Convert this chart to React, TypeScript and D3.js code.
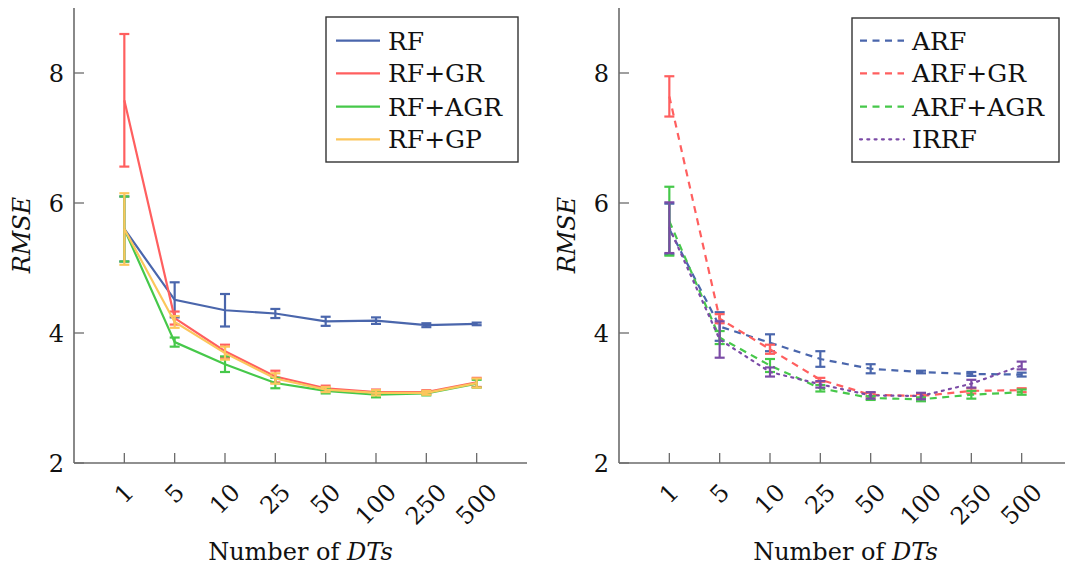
import React from "react";
import * as d3 from "d3";

const xLabels = ["1", "5", "10", "25", "50", "100", "250", "500"];
const yTicks = [2, 4, 6, 8];

// Left panel
const rfMean = [5.6, 4.51, 4.35, 4.30, 4.18, 4.19, 4.12, 4.14];
const rfErr = [0.5, 0.27, 0.25, 0.07, 0.07, 0.05, 0.03, 0.02];
const rfGrMean = [7.58, 4.23, 3.72, 3.33, 3.15, 3.09, 3.09, 3.24];
const rfGrErr = [1.02, 0.1, 0.1, 0.09, 0.04, 0.04, 0.03, 0.07];
const rfAgrMean = [5.6, 3.86, 3.52, 3.23, 3.11, 3.05, 3.07, 3.22];
const rfAgrErr = [0.5, 0.07, 0.12, 0.08, 0.04, 0.04, 0.03, 0.06];
const rfGpMean = [5.6, 4.17, 3.69, 3.30, 3.13, 3.08, 3.08, 3.23];
const rfGpErr = [0.55, 0.09, 0.1, 0.08, 0.04, 0.04, 0.03, 0.07];

// Right panel
const arfMean = [5.6, 4.1, 3.85, 3.6, 3.45, 3.4, 3.37, 3.36];
const arfErr = [0.39, 0.22, 0.13, 0.12, 0.07, 0.02, 0.03, 0.03];
const arfGrMean = [7.64, 4.22, 3.75, 3.28, 3.05, 3.03, 3.11, 3.12];
const arfGrErr = [0.31, 0.07, 0.07, 0.03, 0.03, 0.03, 0.04, 0.03];
const arfAgrMean = [5.72, 3.93, 3.5, 3.15, 3.0, 2.98, 3.05, 3.09];
const arfAgrErr = [0.53, 0.1, 0.1, 0.05, 0.03, 0.03, 0.06, 0.04];
const irrfMean = [5.62, 3.9, 3.4, 3.21, 3.04, 3.03, 3.22, 3.5];
const irrfErr = [0.39, 0.28, 0.07, 0.05, 0.05, 0.05, 0.06, 0.06];

const BLUE = "#4a66ac";
const RED = "#ff5f5f";
const GREEN = "#46c84a";
const YELLOW = "#fcc65c";
const PURPLE = "#7b4ba6";

type Series = { name: string; mean: number[]; err: number[]; color: string; dash?: string };

const leftSeries: Series[] = [
  { name: "RF", mean: rfMean, err: rfErr, color: BLUE },
  { name: "RF+GR", mean: rfGrMean, err: rfGrErr, color: RED },
  { name: "RF+AGR", mean: rfAgrMean, err: rfAgrErr, color: GREEN },
  { name: "RF+GP", mean: rfGpMean, err: rfGpErr, color: YELLOW },
];
const rightSeries: Series[] = [
  { name: "ARF", mean: arfMean, err: arfErr, color: BLUE, dash: "7,5.5" },
  { name: "ARF+GR", mean: arfGrMean, err: arfGrErr, color: RED, dash: "7,5.5" },
  { name: "ARF+AGR", mean: arfAgrMean, err: arfAgrErr, color: GREEN, dash: "7,5.5" },
  { name: "IRRF", mean: irrfMean, err: irrfErr, color: PURPLE, dash: "2,5.3" },
];

const FONT = "DejaVu Serif";
const AXIS = "#6b6b6b";

const y = d3.scaleLinear().domain([2, 9]).range([463, 8]);

function Panel({ x0, x1, series, legend }: { x0: number; x1: number; series: Series[]; legend: { x: number; y: number; w: number; h: number; lx: number; tx: number } }) {
  const x = d3.scaleLinear().domain([0, 9]).range([x0, x1]);
  const line = d3
    .line<number>()
    .x((_, i) => x(i + 1))
    .y((d) => y(d));
  const digitW = 0.636 * 24;
  const capH = 0.729 * 24;
  const rowY = [40.7, 73.3, 106.7, 139.3];
  return (
    <g>
      {/* axes */}
      <line x1={x0} x2={x0} y1={y(9)} y2={y(2)} stroke={AXIS} strokeWidth={1.6} />
      <line x1={x0} x2={x1} y1={y(2)} y2={y(2)} stroke={AXIS} strokeWidth={1.6} />
      {yTicks.map((t) => (
        <g key={"yt" + t}>
          <line x1={x0} x2={x0 + 10} y1={y(t)} y2={y(t)} stroke={AXIS} strokeWidth={1.3} />
          <text x={x0 - 10} y={y(t) + capH / 2} textAnchor="end" fontFamily={FONT} fontSize={24} fill="#111">
            {t}
          </text>
        </g>
      ))}
      {xLabels.map((l, i) => {
        const cx = x(i + 1);
        const box = (l.length * digitW + capH) * 0.707;
        const cy = 482 + box / 2;
        return (
          <g key={"xt" + l}>
            <line x1={cx} x2={cx} y1={y(2)} y2={y(2) - 10} stroke={AXIS} strokeWidth={1.3} />
            <text
              x={cx}
              y={cy}
              textAnchor="middle"
              dominantBaseline="central"
              transform={`rotate(-45 ${cx} ${cy})`}
              fontFamily={FONT}
              fontSize={24}
              fill="#111"
            >
              {l}
            </text>
          </g>
        );
      })}
      <text
        x={x0 - 52}
        y={235}
        textAnchor="middle"
        dominantBaseline="central"
        transform={`rotate(-90 ${x0 - 52} 235)`}
        fontFamily={FONT}
        fontStyle="italic"
        fontSize={24}
        fill="#111"
      >
        RMSE
      </text>
      <text x={(x0 + x1) / 2} y={560} textAnchor="middle" fontFamily={FONT} fontSize={24} fill="#111">
        Number of <tspan fontStyle="italic">DTs</tspan>
      </text>
      {/* series */}
      {series.map((s) => (
        <g key={s.name}>
          <path d={line(s.mean) || ""} fill="none" stroke={s.color} strokeWidth={2.2} strokeDasharray={s.dash} strokeLinecap={s.dash && s.dash.startsWith("2") ? "round" : "butt"} />
          {s.mean.map((m, i) => {
            const cx = x(i + 1);
            const top = y(m + s.err[i]);
            const bot = y(m - s.err[i]);
            return (
              <g key={i} stroke={s.color} strokeWidth={2.2}>
                <line x1={cx} x2={cx} y1={top} y2={bot} />
                <line x1={cx - 5} x2={cx + 5} y1={top} y2={top} />
                <line x1={cx - 5} x2={cx + 5} y1={bot} y2={bot} />
              </g>
            );
          })}
        </g>
      ))}
      {/* legend */}
      <rect x={legend.x} y={legend.y} width={legend.w} height={legend.h} fill="#fff" stroke="#333" strokeWidth={1.4} />
      {series.map((s, i) => (
        <g key={"lg" + s.name}>
          <line
            x1={legend.lx}
            x2={legend.lx + 44}
            y1={rowY[i]}
            y2={rowY[i]}
            stroke={s.color}
            strokeWidth={2.2}
            strokeDasharray={s.dash}
            strokeLinecap={s.dash && s.dash.startsWith("2") ? "round" : "butt"}
          />
          <text x={legend.tx} y={rowY[i] + 9} fontFamily={FONT} fontSize={25} fill="#111">
            {s.name}
          </text>
        </g>
      ))}
    </g>
  );
}

export default function App() {
  return (
    <svg width={1065} height={565} style={{ position: "absolute", left: 0, top: 0, background: "#fff" }}>
      <rect x={0} y={0} width={1065} height={565} fill="#fff" />
      <Panel x0={74} x1={527} series={leftSeries} legend={{ x: 326, y: 17, w: 192, h: 145, lx: 336, tx: 388 }} />
      <Panel x0={619} x1={1072} series={rightSeries} legend={{ x: 852, y: 18, w: 207, h: 144, lx: 860, tx: 912 }} />
    </svg>
  );
}
